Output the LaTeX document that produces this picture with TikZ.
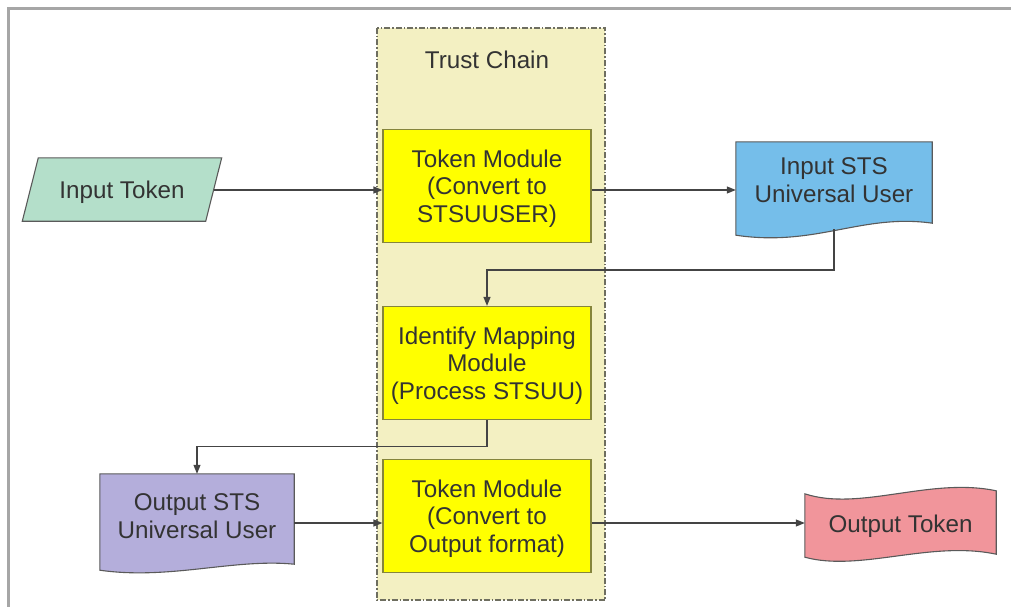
\documentclass[tikz,border=0pt]{standalone}
\usepackage{fontspec}
\setmainfont{Liberation Sans}
\usetikzlibrary{calc, arrows.meta, backgrounds}

\definecolor{chainfill}{HTML}{F3F0C2}
\definecolor{chainline}{HTML}{6E6E60}
\definecolor{modfill}{HTML}{FFFF00}
\definecolor{modline}{HTML}{85853C}
\definecolor{tokgreen}{HTML}{B4DFCA}
\definecolor{stsblue}{HTML}{75BEEA}
\definecolor{stsviolet}{HTML}{B4AEDB}
\definecolor{tokpink}{HTML}{F1959B}
\definecolor{shapeline}{HTML}{5A5A5A}
\definecolor{txt}{HTML}{333333}
\definecolor{flowline}{HTML}{444444}

\tikzset{
    module/.style={draw=modline, fill=modfill, line width=1.2pt, minimum width=208pt,
        minimum height=113pt, align=center, text=txt, inner sep=0pt, text depth=-10pt},
    label/.style={align=center, text=txt, inner sep=0pt},
    shapeborder/.style={draw=shapeline, line width=1.1pt},
    flow/.style={draw=flowline, line width=1.2pt, -{Triangle[length=9pt,width=7pt]}}
}

\begin{document}
\begin{tikzpicture}[x=1pt, y=-1pt, font=\fontsize{24.2pt}{27.5pt}\selectfont]
    \useasboundingbox (0,0) rectangle (1011,607);
    \draw[line width=3pt, color=black!35] (8,607) -- (8,9) -- (1011,9);

    \coordinate (row1) at (0,190);
    \coordinate (row3) at (0,523);

    \node[label, text=black!80] (title) at (487,60) {Trust Chain};
    \node[module] (tm1) at (487,186) {Token Module\\(Convert to\\STSUUSER)};
    \node[module] (idm) at (487,363) {Identify Mapping\\Module\\(Process STSUU)};
    \node[module] (tm2) at (487,516) {Token Module\\(Convert to\\Output format)};

    \node[label, minimum width=183pt, minimum height=63pt, text depth=0pt] (intok) at (122,189.5) {Input Token};
    \node[label, minimum width=196pt, minimum height=76pt] (insts) at (834,180) {Input STS\\Universal User};
    \node[label, minimum width=194pt, minimum height=84pt] (outsts) at (197,516) {Output STS\\Universal User};
    \node[label, minimum width=191pt, minimum height=60pt, text depth=0pt] (outtok) at (900.5,524) {Output Token};
    \coordinate (instail) at ($(insts.south)+(0,11)$);

    \begin{scope}[on background layer]
        \draw[fill=chainfill, draw=chainline, line width=1.2pt,
            dash pattern=on 6pt off 2pt on 1.5pt off 2pt] (377,28) rectangle (605,600);
        \draw[shapeborder, fill=tokgreen] ($(intok.north west)+(8,0)$) -- ($(intok.north east)+(8,0)$)
            -- ($(intok.south east)+(-8,0)$) -- ($(intok.south west)+(-8,0)$) -- cycle;
        \draw[shapeborder, fill=stsblue] (insts.north west) -- (insts.north east)
            -- ($(insts.south east)+(0,5)$) .. controls +(-70,-10) and +(80,12) .. ($(insts.south west)+(0,17)$) -- cycle;
        \draw[shapeborder, fill=stsviolet] (outsts.north west) -- (outsts.north east)
            -- ($(outsts.south east)+(0,6)$) .. controls +(-60,-6) and +(70,10) .. ($(outsts.south west)+(0,12)$) -- cycle;
        \draw[shapeborder, fill=tokpink] (outtok.north west) .. controls +(55,18) and +(-66,-14) .. ($(outtok.north east)+(0,-3)$)
            -- (outtok.south east) .. controls +(-66,-14) and +(55,15) .. ($(outtok.south west)+(0,3)$) -- cycle;
    \end{scope}

    \draw[flow] (intok.east |- row1) -- (tm1.west |- row1);
    \draw[flow] (tm1.east |- row1) -- (insts.west |- row1);
    \draw[flow] (instail) |- ($(idm.north)+(0,-36)$) -- (idm.north);
    \draw[flow] (idm.south) |- ($(outsts.north)+(0,-27)$) -- (outsts.north);
    \draw[flow] (outsts.east |- row3) -- (tm2.west |- row3);
    \draw[flow] (tm2.east |- row3) -- (outtok.west |- row3);
\end{tikzpicture}
\end{document}
